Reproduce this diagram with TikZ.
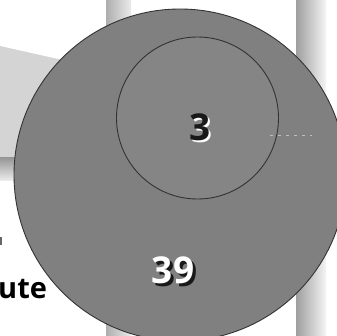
\documentclass[tikz,border=0pt]{standalone}
\usepackage{fontspec}
\setmainfont{Open Sans}
\begin{document}
\begin{tikzpicture}[x=1pt,y=-1pt,
  disc/.style={circle,inner sep=0pt,draw=black!80,line width=0.9pt},
  num/.style={inner sep=0pt,font=\bfseries\fontsize{37}{37}\selectfont}]
\useasboundingbox (0,0) rectangle (337,335);
\clip (0,0) rectangle (337,335);
\fill[white] (0,0) rectangle (337,335);
% background bands
\shade[left color=black!32, right color=black!8] (106,0) rectangle (131,335);
\shade[left color=black!38, right color=black!4] (296,0) rectangle (326,335);
% left gray panel
\fill[black!17] (0,46) -- (80,64) -- (80,157) -- (0,157) -- cycle;
\shade[top color=black!42, bottom color=black!8] (0,157) rectangle (80,180);
% text fragments at left
\node[anchor=base west,inner sep=0pt,font=\bfseries\fontsize{29}{29}\selectfont] (ute) at (-2,298) {ute};
\fill[black!60] (0,237) rectangle (2,245);
% circles
\node[disc,fill=black!50,minimum size=332pt] (outer) at (180,175) {};
\node[disc,fill=black!48,minimum size=162pt] (inner) at (197.5,118) {};
% faint dashed mark
\draw[white!75!black,line width=1pt,dash pattern=on 3pt off 5pt] (270,135) -- (312,135);
% numbers
\node[num,text=white] (threehl) at (202,129) {3};
\node[num,text=black!90] (three) at (200,127) {3};
\node[num,text=black!90] (ntsh) at (176,273) {39};
\node[num,text=white] (nt) at (173,270) {39};
\end{tikzpicture}
\end{document}
